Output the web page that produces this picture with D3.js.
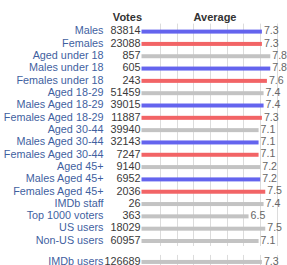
<!DOCTYPE html>
<html>
<head>
<meta charset="utf-8">
<script src="https://cdn.jsdelivr.net/npm/d3@7"></script>
<style>
  html, body { margin: 0; padding: 0; background: #fff; overflow: hidden; }
  svg { display: block; font-family: "Liberation Sans", Arial, sans-serif; }
</style>
</head>
<body>
<div id="chart"></div>
<script>
const labels = [
  "Males", "Females", "Aged under 18", "Males under 18", "Females under 18",
  "Aged 18-29", "Males Aged 18-29", "Females Aged 18-29",
  "Aged 30-44", "Males Aged 30-44", "Females Aged 30-44",
  "Aged 45+", "Males Aged 45+", "Females Aged 45+",
  "IMDb staff", "Top 1000 voters", "US users", "Non-US users"
];
const votes = [
  83814, 23088, 857, 605, 243, 51459, 39015, 11887, 39940, 32143, 7247,
  9140, 6952, 2036, 26, 363, 18029, 60957
];
const averages = [
  7.3, 7.3, 7.8, 7.8, 7.6, 7.4, 7.4, 7.3, 7.1, 7.1, 7.1,
  7.2, 7.2, 7.5, 7.4, 6.5, 7.5, 7.1
];
const groups = [
  "m", "f", "a", "m", "f", "a", "m", "f", "a", "m", "f",
  "a", "m", "f", "a", "a", "a", "a"
];
const totalLabel = "IMDb users";
const totalVotes = 126689;
const totalAverage = 7.3;
const gridTicks = [1, 2, 3, 4, 5, 6, 7, 8];

const width = 287;
const height = 265;
const colors = { m: "#6464ee", f: "#f26466", a: "#c3c3c3" };

const x = d3.scaleLinear().domain([0, 10]).range([140, 307]);
const gx = d3.scaleLinear().domain([0, 10]).range([143.3, 310]);
const y = d3.scaleLinear().domain([0, labels.length - 1]).range([30.6, 240]);

const rows = labels.map((label, i) => ({
  label, votes: votes[i], avg: averages[i], group: groups[i], pos: i
}));
// summary row sits a little below the rest
rows.push({
  label: totalLabel, votes: totalVotes, avg: totalAverage, group: "a",
  pos: labels.length + 0.7
});

const svg = d3.select("#chart").append("svg")
  .attr("width", width)
  .attr("height", height);

// header
svg.append("text")
  .attr("x", 142).attr("y", 21)
  .attr("text-anchor", "end")
  .attr("font-size", 11).attr("font-weight", "bold").attr("fill", "#333")
  .text("Votes");
svg.append("text")
  .attr("x", 215).attr("y", 21)
  .attr("text-anchor", "middle")
  .attr("font-size", 11).attr("font-weight", "bold").attr("fill", "#333")
  .text("Average");

// grid
const gGrid = svg.append("g").attr("stroke", "#dcdcdc").attr("stroke-width", 1);
gGrid.selectAll(".grid-main")
  .data(gridTicks)
  .join("line")
  .attr("class", "grid-main")
  .attr("x1", d => Math.round(gx(d)) + 0.5)
  .attr("x2", d => Math.round(gx(d)) + 0.5)
  .attr("y1", y(0) - 7)
  .attr("y2", y(labels.length - 1) + 6);
gGrid.selectAll(".grid-total")
  .data(gridTicks)
  .join("line")
  .attr("class", "grid-total")
  .attr("x1", d => Math.round(gx(d)) + 0.5)
  .attr("x2", d => Math.round(gx(d)) + 0.5)
  .attr("y1", y(labels.length + 0.7) - 6)
  .attr("y2", height);

const row = svg.append("g")
  .selectAll("g")
  .data(rows)
  .join("g")
  .attr("transform", d => `translate(0,${y(d.pos)})`);

row.append("text")
  .attr("x", 103.5)
  .attr("dy", "0.35em")
  .attr("text-anchor", "end")
  .attr("font-size", 10.8)
  .attr("fill", "#3f5f9f")
  .text(d => d.label);

row.append("text")
  .attr("x", 140.5)
  .attr("dy", "0.35em")
  .attr("text-anchor", "end")
  .attr("font-size", 10.8)
  .attr("fill", "#3a3a3a")
  .text(d => d.votes);

row.append("rect")
  .attr("x", x(0) + 1.5)
  .attr("y", -1)
  .attr("width", d => x(d.avg) - x(0) - 1.5)
  .attr("height", 4)
  .attr("fill", d => colors[d.group]);

row.append("text")
  .attr("x", d => x(d.avg) + 2)
  .attr("dy", "0.35em")
  .attr("font-size", 10.6)
  .attr("fill", "#666")
  .text(d => d3.format(".1f")(d.avg));
</script>
</body>
</html>
